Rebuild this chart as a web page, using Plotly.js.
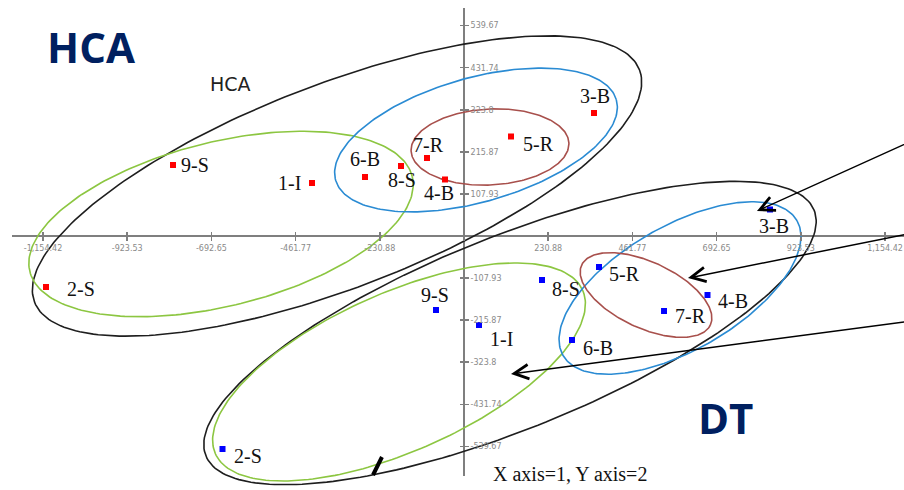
<!DOCTYPE html>
<html><head><meta charset="utf-8">
<script src="https://cdn.plot.ly/plotly-3.0.1.min.js"></script>
<style>html,body{margin:0;padding:0;background:#fff}#chart{width:904px;height:490px}</style>
</head><body><div id="chart"></div>
<script>
// ---- data ----
const pointLabels = ['1-I','2-S','3-B','4-B','5-R','6-B','7-R','8-S','9-S'];
const hcaX = [-416.8,-1146.2,356.5,-52.1,128.9,-271.5,-101.5,-172.8,-797.9];
const hcaY = [136.0,-130.8,315.6,145.0,255.3,151.4,200.1,179.6,182.2];
const dtX  = [41.1,-662.2,839.1,667.7,370.2,296.1,548.5,213.9,-76.8];
const dtY  = [-228.3,-546.5,68.0,-151.4,-79.5,-266.8,-192.4,-112.9,-189.9];
const xTickVals = [-1154.42,-923.53,-692.65,-461.77,-230.88,0,230.88,461.77,692.65,923.53,1154.42];
const xTickText = ['-1,154.42','-923.53','-692.65','-461.77','-230.88','','230.88','461.77','692.65','923.53','1,154.42'];
const yTickVals = [-539.67,-431.74,-323.8,-215.87,-107.93,0,107.93,215.87,323.8,431.74,539.67];
const yTickText = ['-539.67','-431.74','-323.8','-215.87','-107.93','','107.93','215.87','323.8','431.74','539.67'];
const arrowTipX  = [803.4,614.2,128.9];
const arrowTipY  = [64.1,-107.8,-354.1];
const arrowTailX = [1223,1223,1223];
const arrowTailY = [241.7,6.2,-218.6];

// ---- layout geometry / styles ----
const W=904,H=490, X0PX=464, Y0PX=236;
const UX = 230.884/84.2, UY = 107.934/42.07; // data units per pixel
const xr = [-X0PX*UX, (W-X0PX)*UX];
const yr = [-(H-Y0PX)*UY, Y0PX*UY];

const hcaOff = [[-23,0],[35,2],[1,-17],[-6,14],[27,8],[0,-18],[2,-13],[1,14],[22,0]];
const dtOff  = [[23,14],[25,7],[4,16],[25,6],[25,7],[26,8],[26,5],[24,9],[-1,-15]];

const BLACK='#1e1e1e', GREEN='#8cc641', BLUE='#2a8bd3', BROWN='#a8504c';
const ellipses = [
  {cx:-348.2, cy:128.3, a:324, b:102, ang:21, c:BLACK},
  {cx:-666.3, cy:30.8,  a:197, b:82,  ang:14, c:GREEN},
  {cx:32.9,   cy:246.3, a:146, b:62,  ang:16, c:BLUE},
  {cx:71.3,   cy:228.3, a:79,  b:38,  ang:3,  c:BROWN},
  {cx:126.1,  cy:-248.9,a:328, b:96,  ang:22, c:BLACK},
  {cx:-178.2, cy:-348.9,a:201, b:79,  ang:24, c:GREEN},
  {cx:592.3,  cy:-133.4,a:135, b:62,  ang:30, c:BLUE},
  {cx:499.1,  cy:-151.4,a:71,  b:33,  ang:-25,c:BROWN}
];

const traces = [];
ellipses.forEach(e=>{
  const xs=[],ys=[],th=e.ang*Math.PI/180;
  for(let i=0;i<=240;i++){
    const t=2*Math.PI*i/240, u=e.a*Math.cos(t), v=e.b*Math.sin(t);
    xs.push(e.cx+(u*Math.cos(th)-v*Math.sin(th))*UX);
    ys.push(e.cy+(u*Math.sin(th)+v*Math.cos(th))*UY);
  }
  traces.push({x:xs,y:ys,mode:'lines',line:{color:e.c,width:1.6},hoverinfo:'skip',showlegend:false});
});
traces.push({x:hcaX,y:hcaY,mode:'markers',marker:{symbol:'square',size:6,color:'#ff0000'},showlegend:false,hoverinfo:'skip'});
traces.push({x:dtX,y:dtY,mode:'markers',marker:{symbol:'square',size:6,color:'#0000ff'},showlegend:false,hoverinfo:'skip',xaxis:'x2',yaxis:'y2'});

const labFont={family:'Liberation Serif, Times New Roman, serif',size:20,color:'#111'};
const ann=[];
pointLabels.forEach((l,i)=>{
  ann.push({x:hcaX[i],y:hcaY[i],text:l,showarrow:false,xanchor:'center',yanchor:'middle',xshift:hcaOff[i][0],yshift:-hcaOff[i][1],font:labFont});
  ann.push({x:dtX[i],y:dtY[i],text:l,showarrow:false,xanchor:'center',yanchor:'middle',xshift:dtOff[i][0],yshift:-dtOff[i][1],font:labFont});
});
arrowTipX.forEach((x,i)=>{
  ann.push({x:x,y:arrowTipY[i],ax:arrowTailX[i],ay:arrowTailY[i],axref:'x',ayref:'y',xref:'x',yref:'y',text:'',showarrow:true,arrowhead:5,arrowsize:1.9,arrowwidth:1.5,arrowcolor:'#000'});
});
const bigFont={family:'Open Sans, sans-serif',size:42,color:'#002060',weight:700};
ann.push({xref:'paper',yref:'paper',x:91/W,y:1-46/H,text:'<b>HCA</b>',showarrow:false,xanchor:'center',yanchor:'middle',font:bigFont});
ann.push({xref:'paper',yref:'paper',x:725/W,y:1-417/H,text:'<b>DT</b>',showarrow:false,xanchor:'center',yanchor:'middle',font:bigFont});
ann.push({xref:'paper',yref:'paper',x:231/W,y:1-84/H,text:'HCA',showarrow:false,xanchor:'center',yanchor:'middle',font:{family:'DejaVu Sans, sans-serif',size:19,color:'#222'}});
ann.push({xref:'paper',yref:'paper',x:570/W,y:1-474/H,text:'X axis=1, Y axis=2',showarrow:false,xanchor:'center',yanchor:'middle',font:{family:'Liberation Serif, serif',size:20,color:'#111'}});

const tickFont={family:'DejaVu Sans, sans-serif',size:8,color:'#8a8a8a'};
const AX='#7f7f7f';
const layout={
  width:W,height:H,margin:{l:0,r:0,t:0,b:0},paper_bgcolor:'#fff',plot_bgcolor:'#fff',showlegend:false,
  xaxis:{range:xr,domain:[0,1],anchor:'free',position:(H-Y0PX)/H,showline:false,zeroline:false,showgrid:false,
    ticks:'outside',ticklen:4,tickwidth:1.5,tickcolor:AX,tickmode:'array',tickvals:xTickVals,ticktext:xTickText,tickfont:tickFont,fixedrange:true},
  xaxis2:{range:xr,overlaying:'x',anchor:'free',position:(H-Y0PX)/H,showline:false,zeroline:false,showgrid:false,
    ticks:'inside',ticklen:4,tickwidth:1.5,tickcolor:AX,tickmode:'array',tickvals:xTickVals,showticklabels:false,fixedrange:true},
  yaxis:{range:yr,domain:[0,1],anchor:'free',position:X0PX/W,side:'right',showline:false,zeroline:false,showgrid:false,
    ticks:'outside',ticklen:4,tickwidth:1.5,tickcolor:AX,tickmode:'array',tickvals:yTickVals,ticktext:yTickText,tickfont:tickFont,fixedrange:true},
  yaxis2:{range:yr,overlaying:'y',anchor:'free',position:X0PX/W,side:'right',showline:false,zeroline:false,showgrid:false,
    ticks:'inside',ticklen:4,tickwidth:1.5,tickcolor:AX,tickmode:'array',tickvals:yTickVals,showticklabels:false,fixedrange:true},
  shapes:[
    {type:'line',xref:'paper',yref:'y',x0:12/W,x1:1,y0:0,y1:0,line:{color:AX,width:2},layer:'below'},
    {type:'line',xref:'x',yref:'paper',x0:0,x1:0,y0:(H-476)/H,y1:(H-8)/H,line:{color:AX,width:2},layer:'below'},
    {type:'line',xref:'x',yref:'y',x0:-224.9,y0:-567.0,x1:-249.5,y1:-613.2,line:{color:'#000',width:4}}
  ],
  annotations:ann
};
Plotly.newPlot('chart',traces,layout,{displayModeBar:false,staticPlot:true});
</script></body></html>
